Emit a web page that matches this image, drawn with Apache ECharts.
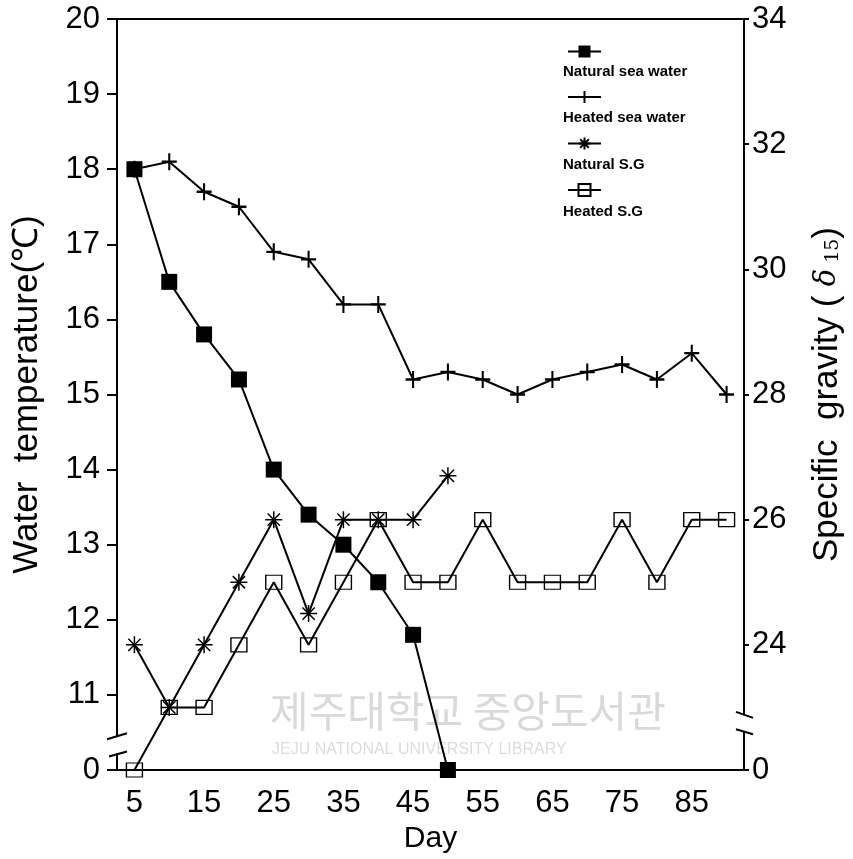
<!DOCTYPE html>
<html><head><meta charset="utf-8">
<script src="https://cdn.jsdelivr.net/npm/echarts@6/dist/echarts.min.js"></script>
<style>html,body{margin:0;padding:0;background:#fff}#c{width:853px;height:859px}</style>
</head><body><div id="c"></div>
<script>
// ---------------- data ----------------
const days = [5,10,15,20,25,30,35,40,45,50,55,60,65,70,75,80,85,90];
const naturalSeaWater = [18.0,16.5,15.8,15.2,14.0,13.4,13.0,12.5,11.8,0,null,null,null,null,null,null,null,null];
const heatedSeaWater  = [18.0,18.1,17.7,17.5,16.9,16.8,16.2,16.2,15.2,15.3,15.2,15.0,15.2,15.3,15.4,15.2,15.55,15.0];
const naturalSG       = [24.0,23.0,24.0,25.0,26.0,24.5,26.0,26.0,26.0,26.7,null,null,null,null,null,null,null,null];
const heatedSG        = [0,23.0,23.0,24.0,25.0,24.0,25.0,26.0,25.0,25.0,26.0,25.0,25.0,25.0,26.0,25.0,26.0,26.0];
const tempTicks = [0,11,12,13,14,15,16,17,18,19,20];
const sgTicks = [0,24,26,28,30,32,34];
const seriesNames = ['Natural sea water','Heated sea water','Natural S.G','Heated S.G'];

// broken axes: value 0 is drawn at the break baseline
const TEMP_BASE = 10, SG_BASE = 22;
const tempPos = v => v === null ? null : (v === 0 ? TEMP_BASE : v);
const sgPos = v => v === null ? null : (v === 0 ? SG_BASE : v);

const FONT = '"Liberation Sans", Arial, Helvetica, sans-serif';
const chart = echarts.init(document.getElementById('c'), null, {renderer: 'canvas'});

const plusPath = 'path://M0,-1L0,1M-1,0L1,0';
const starPath = 'path://M-1,0L1,0M0,-1L0,1M-0.72,-0.72L0.72,0.72M-0.72,0.72L0.72,-0.72';

const option = {
  backgroundColor: '#fff',
  animation: false,
  grid: {left: 117, right: 105, top: 19, bottom: 86, show: true, borderColor: '#000', borderWidth: 2},
  legend: {
    orient: 'vertical', left: 562, top: 39, itemWidth: 33, itemHeight: 15, itemGap: 32,
    data: seriesNames, formatter: () => '', selectedMode: false
  },
  xAxis: {
    type: 'category', data: days.map(String), boundaryGap: true,
    name: 'Day', nameLocation: 'middle', nameGap: 54,
    nameTextStyle: {fontFamily: FONT, fontSize: 30, color: '#000'},
    axisLine: {lineStyle: {color: '#000', width: 2}},
    axisTick: {alignWithLabel: true, interval: 0, length: 10, lineStyle: {color: '#000', width: 2}},
    axisLabel: {interval: 1, margin: 18, fontFamily: FONT, fontSize: 31, color: '#000'},
    splitLine: {show: false}
  },
  yAxis: [{
    type: 'value', position: 'left', min: TEMP_BASE, max: 20, interval: 1,
    name: 'Water  temperature(℃)', nameLocation: 'middle', nameRotate: 90, nameGap: 72,
    nameTextStyle: {fontFamily: FONT, fontSize: 35, color: '#000'},
    axisLine: {show: true, lineStyle: {color: '#000', width: 2}},
    axisTick: {show: true, length: 10, lineStyle: {color: '#000', width: 2}},
    axisLabel: {margin: 17, fontFamily: FONT, fontSize: 31, color: '#000',
      formatter: v => v === TEMP_BASE ? String(tempTicks[0]) : String(v)},
    splitLine: {show: false}
  }, {
    type: 'value', position: 'right', min: SG_BASE, max: 34, interval: 2,
    name: '{a|Specific  gravity (}{d| δ}{s| 15}{a|)}', nameLocation: 'middle', nameRotate: 90, nameGap: 66,
    nameTextStyle: {fontFamily: FONT, fontSize: 35, color: '#000', rich: {
      a: {fontFamily: FONT, fontSize: 35, color: '#000'},
      d: {fontFamily: '"DejaVu Serif", serif', fontStyle: 'italic', fontSize: 29, color: '#000'},
      s: {fontFamily: '"DejaVu Serif", serif', fontSize: 19, color: '#000', padding: [11, 0, 0, 0]}
    }},
    axisLine: {show: true, lineStyle: {color: '#000', width: 2}},
    axisTick: {show: true, length: 5, lineStyle: {color: '#000', width: 2}},
    axisLabel: {margin: 8, fontFamily: FONT, fontSize: 31, color: '#000',
      formatter: v => v === SG_BASE ? String(sgTicks[0]) : String(v)},
    splitLine: {show: false}
  }],
  series: [{
    name: seriesNames[0], type: 'line', yAxisIndex: 0, data: naturalSeaWater.map(tempPos),
    symbol: 'rect', symbolSize: 16, z: 5,
    lineStyle: {color: '#000', width: 2}, itemStyle: {color: '#000'}
  }, {
    name: seriesNames[1], type: 'line', yAxisIndex: 0, data: heatedSeaWater.map(tempPos),
    symbol: plusPath, symbolSize: [15, 17], z: 4,
    lineStyle: {color: '#000', width: 2}, itemStyle: {color: '#000', borderColor: '#000', borderWidth: 2.2}
  }, {
    name: seriesNames[2], type: 'line', yAxisIndex: 1, data: naturalSG.map(sgPos),
    symbol: starPath, symbolSize: 17, z: 4,
    lineStyle: {color: '#000', width: 2}, itemStyle: {color: '#000', borderColor: '#000', borderWidth: 1.5}
  }, {
    name: seriesNames[3], type: 'line', yAxisIndex: 1, data: heatedSG.map(sgPos),
    symbol: 'rect', symbolSize: [16, 14], z: 3,
    lineStyle: {color: '#000', width: 2}, itemStyle: {color: 'rgba(0,0,0,0)', borderColor: '#000', borderWidth: 1.3}
  }]
};
chart.setOption(option);

// decorations: legend labels under icons, axis break marks, faint library watermark
function decorate() {
  const rect = chart.getModel().getComponent('grid').coordinateSystem.getRect();
  const L = rect.x, R = rect.x + rect.width;
  const ly1 = chart.convertToPixel({yAxisIndex: 0}, 10.45);
  const ly2 = chart.convertToPixel({yAxisIndex: 0}, 10.22);
  const ry1 = chart.convertToPixel({yAxisIndex: 1}, 22.88);
  const ry2 = chart.convertToPixel({yAxisIndex: 1}, 22.62);
  const ls = {stroke: '#000', lineWidth: 2};
  const g = [
    {type: 'rect', z: 50, shape: {x: L - 3, y: ly1, width: 6, height: ly2 - ly1}, style: {fill: '#fff'}},
    {type: 'rect', z: 50, shape: {x: R - 3, y: ry1, width: 6, height: ry2 - ry1}, style: {fill: '#fff'}},
    {type: 'line', z: 51, shape: {x1: L - 10, y1: ly1 + 3, x2: L + 10, y2: ly1 - 3}, style: ls},
    {type: 'line', z: 51, shape: {x1: L - 8, y1: ly2 + 3, x2: L + 10, y2: ly2 - 2}, style: ls},
    {type: 'line', z: 51, shape: {x1: R - 8, y1: ry1 - 3, x2: R + 9, y2: ry1 + 3}, style: ls},
    {type: 'line', z: 51, shape: {x1: R - 8, y1: ry2 - 2, x2: R + 9, y2: ry2 + 3}, style: ls},
    {type: 'text', z: 0, left: 270, top: 690, silent: true,
      style: {text: '제주대학교 중앙도서관', font: '42px "Noto Sans CJK KR", sans-serif', fill: '#d9d9d9'}},
    {type: 'text', z: 0, left: 272, top: 742, silent: true,
      style: {text: 'JEJU NATIONAL UNIVERSITY LIBRARY', font: '16px ' + FONT, fill: '#dcdcdc'}}
  ];
  const legendTextY = [64, 110, 157, 204];
  seriesNames.forEach((n, i) => g.push({type: 'text', z: 10, left: 563, top: legendTextY[i],
    style: {text: n, font: 'bold 15px ' + FONT, fill: '#000'}}));
  chart.setOption({graphic: g});
}
decorate();
</script></body></html>
